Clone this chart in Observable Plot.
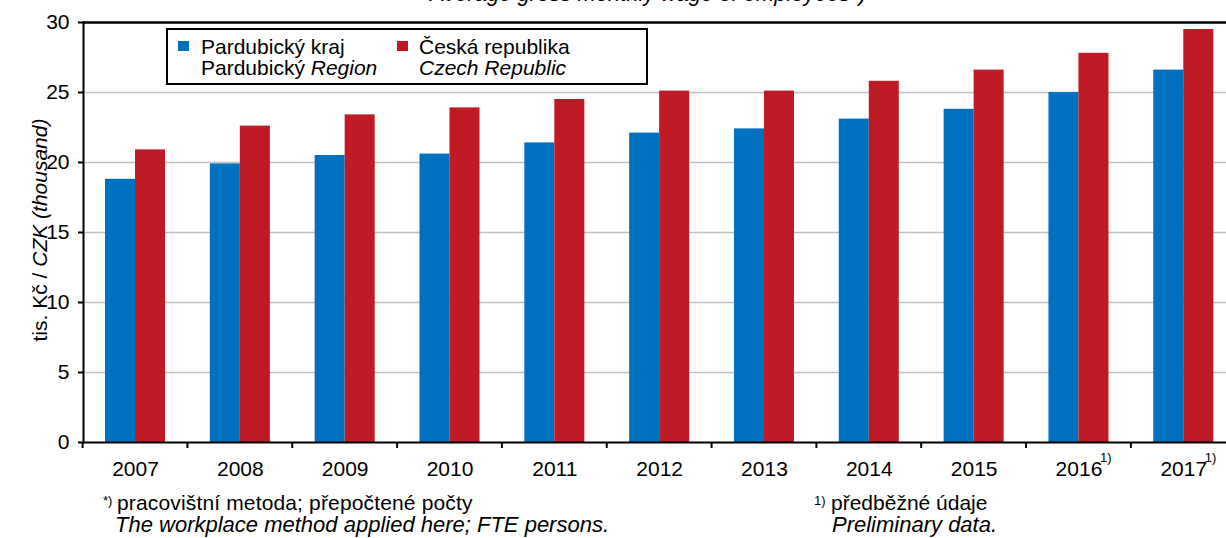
<!DOCTYPE html>
<html><head><meta charset="utf-8">
<script src="https://cdn.jsdelivr.net/npm/d3@7"></script>
<script src="https://cdn.jsdelivr.net/npm/@observablehq/plot@0.6"></script>
<style>
body{margin:0;background:#fff;font-family:"Liberation Sans",Arial,sans-serif;}
#wrap{position:relative;width:1226px;height:538px;overflow:hidden;}
.abs{position:absolute;white-space:nowrap;color:#000;font-size:21px;line-height:21px;}
i{font-style:italic;}
</style></head><body><div id="wrap"></div>
<script>
const years = ["2007","2008","2009","2010","2011","2012","2013","2014","2015","2016","2017"];
const pardubice = [18.8, 19.9, 20.5, 20.6, 21.4, 22.1, 22.4, 23.1, 23.8, 25.0, 26.6];
const czechia   = [20.9, 22.6, 23.4, 23.9, 24.5, 25.1, 25.1, 25.8, 26.6, 27.8, 29.5];
const yTicks = [0, 5, 10, 15, 20, 25, 30];
const yearNotes = {"2016": "1)", "2017": "1)"};
const legendCz = ["Pardubický kraj", "Česká republika"];
const legendEnPlain = ["Pardubický ", ""];
const legendEnItalic = ["Region", "Czech Republic"];
const titleText = "Average gross monthly wage of employees*)";

const BLUE = "#0070c0", RED = "#be1b24";
const FONT = '"Liberation Sans", Arial, sans-serif';
const rows = years.map((y, i) => ({year: y, pce: pardubice[i], cr: czechia[i]}));

const chart = Plot.plot({
  width: 1226, height: 480,
  marginLeft: 83, marginRight: 0, marginTop: 22, marginBottom: 38,
  style: {fontFamily: FONT, fontSize: "21px", color: "#000", background: "transparent", overflow: "hidden"},
  x: {domain: years, range: [82.6, 1235.7], padding: 0, round: false, label: null},
  y: {domain: [0, 30], range: [442, 22], label: null},
  marks: [
    Plot.ruleY(yTicks.filter(t => t > 0 && t < 30), {stroke: "#c0c0c0", strokeWidth: 1.6}),
    Plot.barY(rows, {x: "year", y: "pce", fill: BLUE, insetLeft: 22.4, insetRight: 52.4}),
    Plot.barY(rows, {x: "year", y: "cr", fill: RED, insetLeft: 52.4, insetRight: 22.4}),
    Plot.ruleY([30], {stroke: "#000", strokeWidth: 2.5}),
    Plot.ruleY([0], {stroke: "#000", strokeWidth: 2}),
    Plot.frame({anchor: "left", stroke: "#000", strokeWidth: 2}),
    Plot.axisX({tickSize: 0, tickPadding: 19}),
    Plot.axisY({ticks: yTicks, tickSize: 5, tickPadding: 9, strokeWidth: 2})
  ]
});
const wrap = document.getElementById("wrap");
wrap.appendChild(chart);

// category boundary ticks and superscript notes on year labels
const xs = chart.scale("x"), ys = chart.scale("y");
const svg = d3.select(chart);
const y0 = ys.apply(0);
const edges = years.map(y => xs.apply(y)).concat([xs.apply(years[years.length - 1]) + xs.step]);
svg.append("g").attr("stroke", "#000").attr("stroke-width", 2)
  .selectAll("line").data(edges).join("line")
  .attr("x1", d => d).attr("x2", d => d).attr("y1", y0).attr("y2", y0 + 6);
svg.selectAll('g[aria-label="x-axis tick label"] text').each(function() {
  const t = this.textContent.trim();
  if (yearNotes[t]) {
    const len = this.getComputedTextLength();
    const cx = xs.apply(t) + xs.bandwidth / 2;
    svg.append("text").attr("x", cx + len / 2 + 4).attr("y", y0 + 20)
      .attr("font-size", 13).attr("font-family", FONT).attr("fill", "#000").text(yearNotes[t]);
  }
});

function addDiv(html, css) {
  const d = document.createElement("div");
  d.className = "abs"; d.innerHTML = html; Object.assign(d.style, css);
  wrap.appendChild(d); return d;
}
// title (cut off by the top edge)
addDiv("<i>" + titleText + "</i>", {left: "648px", top: "-17px", fontSize: "22px", lineHeight: "22px", transform: "translateX(-50%)"});
// legend
addDiv("", {left: "166px", top: "28px", width: "478px", height: "53px", border: "2px solid #000"});
addDiv("", {left: "178px", top: "41px", width: "11px", height: "10px", background: BLUE});
addDiv("", {left: "397px", top: "41px", width: "11px", height: "10px", background: RED});
addDiv(legendCz[0] + "<br>" + legendEnPlain[0] + "<i>" + legendEnItalic[0] + "</i>", {left: "201px", top: "36px"});
addDiv(legendCz[1] + "<br>" + legendEnPlain[1] + "<i>" + legendEnItalic[1] + "</i>", {left: "419px", top: "36px"});
// y label
addDiv("tis. Kč / <i>CZK (thousand)</i>", {left: "39px", top: "230px", transform: "translate(-50%,-50%) rotate(-90deg)"});
// footnotes
addDiv('*)', {left: "103px", top: "494px", fontSize: "13px", lineHeight: "13px"});
addDiv('pracovištní metoda; přepočtené počty', {left: "117px", top: "492px", letterSpacing: "0.15px"});
addDiv('<i>The workplace method applied here; FTE persons.</i>', {left: "115px", top: "514px", fontSize: "22px", lineHeight: "22px"});
addDiv('1)', {left: "814px", top: "494px", fontSize: "13px", lineHeight: "13px"});
addDiv('předběžné údaje', {left: "831px", top: "492px"});
addDiv('<i>Preliminary data.</i>', {left: "832px", top: "514px", fontSize: "22px", lineHeight: "22px"});
</script>
</body></html>
